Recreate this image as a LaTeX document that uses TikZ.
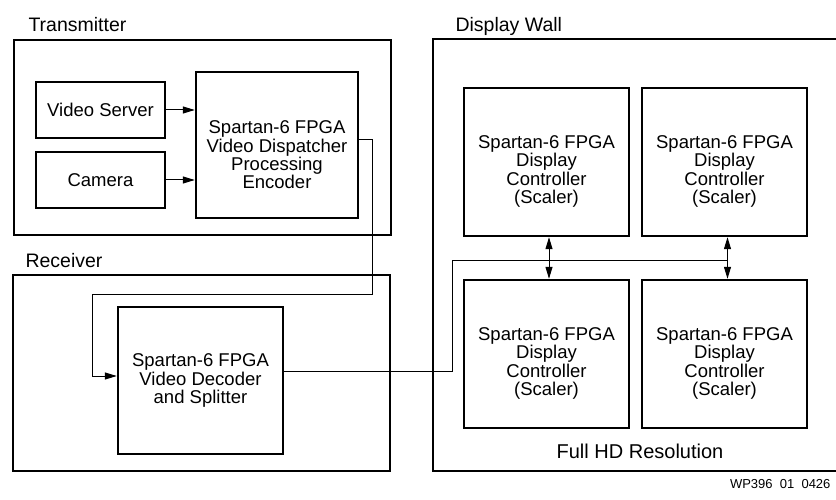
\documentclass[tikz,border=0pt]{standalone}
\usepackage{fontspec}
\setmainfont{Liberation Sans}
\usetikzlibrary{arrows.meta}

\begin{document}
\begin{tikzpicture}[x=1pt,y=-1pt,
  frame/.style={line width=2.5pt},
  box/.style={draw,line width=2.4pt,inner sep=0pt},
  txt/.style={font=\fontsize{18.5}{18.3}\selectfont,align=center},
  lbl/.style={font=\fontsize{19.5}{22}\selectfont,anchor=base west},
  wire/.style={line width=1pt},
  >={Triangle[length=12pt,width=7pt]}]
  \useasboundingbox (0,0) rectangle (836,500);

  % outer frames and their titles
  \draw[frame] (14,40) rectangle (391,235);
  \draw[frame] (13,275) rectangle (390,471);
  \draw[frame] (433,39) rectangle (850,471);
  \node[lbl] (tx-title) at (25,32) {Transmitter};
  \node[lbl] (rx-title) at (22,267) {Receiver};
  \node[lbl] (dw-title) at (452,32) {Display Wall};

  % transmitter
  \node[box,minimum width=129pt,minimum height=56pt,txt] (vs) at (100.5,110) {Video Server};
  \node[box,minimum width=129pt,minimum height=56pt,txt] (cam) at (100.5,180) {Camera};
  \node[box,minimum width=162pt,minimum height=146pt,
        label={[txt,yshift=-10pt]center:Spartan-6 FPGA\\Video Dispatcher\\Processing\\Encoder}] (enc) at (277,145) {};

  % receiver
  \node[box,minimum width=165pt,minimum height=147pt,txt] (dec) at (200.5,380.5)
    {Spartan-6 FPGA\\Video Decoder\\and Splitter};

  % display wall: four scalers
  \foreach \n/\x/\y in {tl/546.5/162, tr/724.5/162, bl/546.5/354, br/724.5/354} {
    \node[box,minimum width=165pt,minimum height=148pt,
          label={[txt,yshift=-9.5pt]center:Spartan-6 FPGA\\Display\\Controller\\(Scaler)}] (\n) at (\x,\y) {};
  }
  \node[font=\fontsize{20}{22}\selectfont,anchor=base] (fullhd) at (640,458) {Full HD Resolution};
  \node[font=\fontsize{13}{15}\selectfont,anchor=base east] (fig-id) at (834,488) {WP396\ \ 01\ \ 0426};

  % links
  \coordinate (txout) at (372,294);
  \coordinate (rxin) at (92,294);
  \coordinate (busL) at (452,260);
  \coordinate (busR) at (728,260);
  \draw[wire,->] (vs.east) -- (vs.east -| enc.west);
  \draw[wire,->] (cam.east) -- (cam.east -| enc.west);
  \draw[wire,->] ([yshift=5pt]enc.east) -| (txout) -- (rxin) |- ([yshift=4.5pt]dec.west);
  \draw[wire] ([yshift=9.5pt]dec.east) -| (busL) -- (busR);
  \draw[wire,<->] ([xshift=2.5pt]tl.south) -- ([xshift=2.5pt]bl.north);
  \draw[wire,<->] ([xshift=3pt]tr.south) -- ([xshift=3pt]br.north);
\end{tikzpicture}
\end{document}
